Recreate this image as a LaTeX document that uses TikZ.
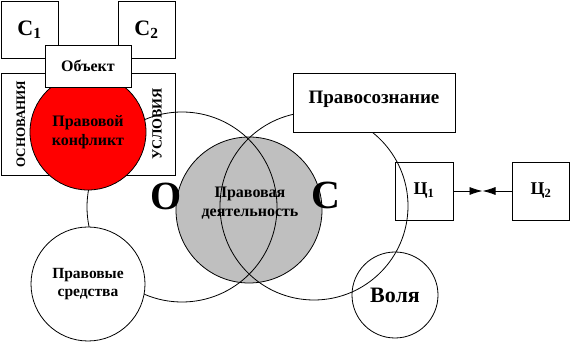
\documentclass[tikz,border=0pt]{standalone}
\usepackage{fontspec}
\setmainfont{Liberation Serif}
\usetikzlibrary{arrows.meta}

\tikzset{
  box/.style={draw, line width=0.8pt, inner sep=0pt},
  ring/.style={draw, circle, line width=0.8pt, inner sep=0pt},
  lbl/.style={font=\bfseries\fontsize{#1}{\fpeval{1.2*#1}}\selectfont, align=center}
}

\begin{document}
\begin{tikzpicture}[x=1pt, y=-1pt]
		\useasboundingbox (0,0) rectangle (570,344);

		% left block: conflict and its sides
		\node[box, fill=white, minimum width=174pt, minimum height=102pt] (frame) at (88,124) {};
		\node[box, minimum width=57pt, minimum height=57pt, lbl=22] (s1) at (29.5,29.5) {С\textsubscript{1}};
		\node[box, minimum width=57pt, minimum height=57pt, lbl=22] (s2) at (146.5,29.5) {С\textsubscript{2}};

		% activity and the two big circles
		\node[ring, fill=gray!50, minimum size=146pt] (act) at (249,210) {};
		\node[ring, minimum size=190pt] (obj) at (182,207) {};
		\node[ring, minimum size=188pt] (subj) at (314,206) {};

		\node[ring, fill=red, minimum size=116pt, lbl=16] (conf) at (88,132) {Правовой\\конфликт};
		\node[box, fill=white, minimum width=86pt, minimum height=42pt, lbl=16] (thing) at (88,66) {Объект};
		\node[lbl=13, rotate=90] (base) at (21,124) {ОСНОВАНИЯ};
		\node[lbl=14, rotate=90] (cond) at (157,124) {УСЛОВИЯ};

		\node[ring, fill=white, minimum size=114pt, lbl=15.5] (means) at (88,284) {Правовые\\средства};
		\node[lbl=16] (actx) at (250,203) {Правовая\\деятельность};
		\node[lbl=40] (o) at (166,196) {О};
		\node[lbl=40] (c) at (326,195) {С};

		% right side
		\node[box, fill=white, minimum width=162pt, minimum height=59pt] (mind) at (374,102.5) {};
		\node[lbl=19] (mindx) at (374,99) {Правосознание};
		\node[ring, minimum size=86pt, lbl=22] (will) at (395,295) {Воля};
		\node[box, minimum width=58pt, minimum height=58pt, lbl=18] (g1) at (424,191) {Ц\textsubscript{1}};
		\node[box, minimum width=57pt, minimum height=58pt, lbl=18] (g2) at (541,191) {Ц\textsubscript{2}};

		\coordinate (meet) at (482.5,191);
		\draw[line width=0.8pt, -{Latex[length=13pt, width=8pt]}] (g1) -- (meet);
		\draw[line width=0.8pt, -{Latex[length=13pt, width=8pt]}] (g2) -- (meet);
	\end{tikzpicture}
\end{document}
